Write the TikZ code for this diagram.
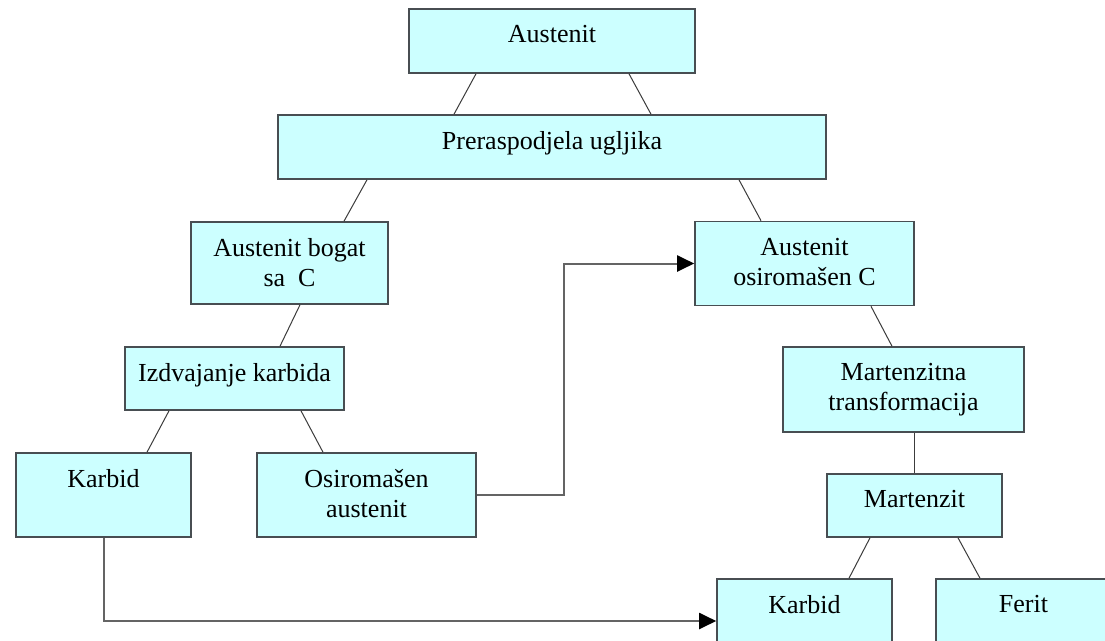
\documentclass[tikz,border=0pt]{standalone}
\usepackage{fontspec}
\setmainfont{Liberation Serif}
\usetikzlibrary{arrows.meta}
\definecolor{boxfill}{RGB}{204,255,255}
\definecolor{boxline}{RGB}{72,78,82}
\definecolor{tieline}{RGB}{60,60,60}
\definecolor{flowline}{RGB}{100,100,100}

\tikzset{
  box/.style={draw=boxline,fill=boxfill,line width=1.6pt,inner sep=0pt},
  boxtext/.style={anchor=north,yshift=-17pt,inner sep=0pt,align=center,
    font=\fontsize{26}{30}\selectfont},
  tie/.style={draw=tieline,line width=1pt},
  flow/.style={draw=flowline,line width=2pt,
    -{Triangle[length=17pt,width=16pt,color=black]}}
}

\begin{document}
\begin{tikzpicture}[x=1pt,y=-1pt]
        \clip (0,0) rectangle (1105,640);
        \fill[white] (0,0) rectangle (1105,640);
        % boxes: name/x/y/width/height/text
        \foreach \n/\x/\y/\w/\h/\t in {
            aust/552/41/286/64/{Austenit},
            prer/552/147/548/64/{Preraspodjela ugljika},
            bogat/289.5/263/197/82/{Austenit bogat\\sa~~C},
            osC/804.5/263.5/219/84/{Austenit\\osiromašen C},
            izd/234.5/378.5/219/63/{Izdvajanje karbida},
            mart/903.5/389.5/241/85/{Martenzitna\\transformacija},
            karL/103.5/495/175/84/{Karbid},
            osA/366.5/495/219/84/{Osiromašen\\austenit},
            marz/914.5/505.5/175/63/{Martenzit},
            karR/804.5/621/175/84/{Karbid},
            ferit/1023.5/621/175/84/{Ferit}}
          \node[box,minimum width=\w pt,minimum height=\h pt,
                label={[boxtext]north:\t}] (\n) at (\x,\y) {};
        % plain ties between levels
        \foreach \a/\da/\b/\db in {aust/-76/prer/-98, aust/77/prer/99,
            prer/-185/bogat/54.5, prer/187/osC/-43.5, bogat/10.5/izd/45.5,
            izd/-65.5/karL/43.5, izd/66.5/osA/-43.5, osC/66.5/mart/-11.5,
            marz/-44.5/karR/44.5, marz/43.5/ferit/-43.5}
          \draw[tie] ([xshift=\da pt]\a.south) -- ([xshift=\db pt]\b.north);
        \draw[tie] (mart.south -| marz.north) -- (marz.north);
        % arrows
        \draw[flow] (osA.east) -- ++(87,0) |- (osC.west);
        \draw[flow] (karL.south) |- (karR.west);
      \end{tikzpicture}
\end{document}
